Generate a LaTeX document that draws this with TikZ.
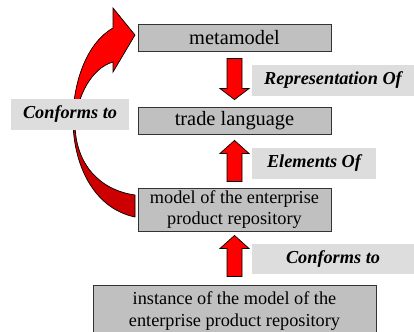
\documentclass[tikz,border=0pt]{standalone}
\usepackage{fontspec}
\setmainfont{Liberation Serif}
\usetikzlibrary{calc}
\definecolor{boxgray}{RGB}{192,192,192}
\definecolor{labelgray}{RGB}{221,221,221}
\definecolor{darkred}{RGB}{204,0,0}
\tikzset{
  level/.style={draw=black!80,line width=.6pt,fill=boxgray,minimum width=4.825cm,
    minimum height=.675cm,align=center,inner sep=0pt,font=\fontsize{14.5}{15.6}\selectfont},
  twoline/.style={font=\fontsize{13}{15.6}\selectfont},
  relation/.style={fill=labelgray,minimum height=.775cm,inner sep=0pt,
    font=\fontsize{13}{15}\selectfont\bfseries\itshape},
  redarrow/.style={draw=black,line width=.5pt,fill=red,line join=miter}
}
% tail, tip, head length (signed, in px)
\newcommand\redblock[3]{%
  \draw[redarrow] ($(#1)+(-7.5,0)$) -- ($(#2)+(-7.5,#3)$) -- ($(#2)+(-14.5,#3)$) -- (#2)
    -- ($(#2)+(14.5,#3)$) -- ($(#2)+(7.5,#3)$) -- ($(#1)+(7.5,0)$) -- cycle;}
\begin{document}
\begin{tikzpicture}[x=0.025cm,y=-0.025cm]
    \clip (0,0) rectangle (414,331);
    \node[level] (meta) at(234.5,37.5) {metamodel};
    \node[level] (trade) at(234.5,120.5) {trade language};
    \node[level,twoline,minimum height=1.075cm] (model) at(234.5,209.5) {model of the enterprise\\product repository};
    \node[level,twoline,minimum width=7.075cm,minimum height=1.3cm] (inst) at(234.5,311)
        {instance of the model of the\\enterprise product repository};
    % straight arrows
    \coordinate (t1) at ($(meta.south)+(0,7)$);
    \coordinate (h1) at ($(trade.north)+(0,-7)$);
    \redblock{t1}{h1}{-11}
    \coordinate (t2) at ($(model.north)+(0,-6)$);
    \coordinate (h2) at ($(trade.south)+(0,6)$);
    \redblock{t2}{h2}{13}
    \coordinate (t3) at ($(inst.north)+(0,-8)$);
    \coordinate (h3) at ($(model.south)+(0,4)$);
    \redblock{t3}{h3}{13}
    % curved arrow
    \def\bend{(135,217) .. controls (92,208) and (73,162) .. (73,120)
        .. controls (73,80) and (88,42) .. (113,28) -- (113,8) -- (135,35) -- (113,72) -- (113,62)
        .. controls (92,68) and (77,95) .. (75,125) .. controls (76,165) and (100,190) .. (135,195) -- cycle}
    \fill[darkred] \bend;
    \begin{scope}
        \clip (0,0) rectangle (140,115);
        \fill[red] \bend;
    \end{scope}
    \draw[line width=.5pt,line join=miter] \bend;
    % labels
    \node[relation,minimum width=4.05cm] (rep) at(333,80.5) {Representation Of};
    \node[relation,minimum width=2.95cm] (conf) at(70,114.5) {Conforms to};
    \node[relation,minimum width=3.1cm] (elem) at(314,163.5) {Elements Of};
    \node[relation,minimum width=4.05cm,minimum height=.75cm] (conf2) at(333,259) {Conforms to};
\end{tikzpicture}
\end{document}
